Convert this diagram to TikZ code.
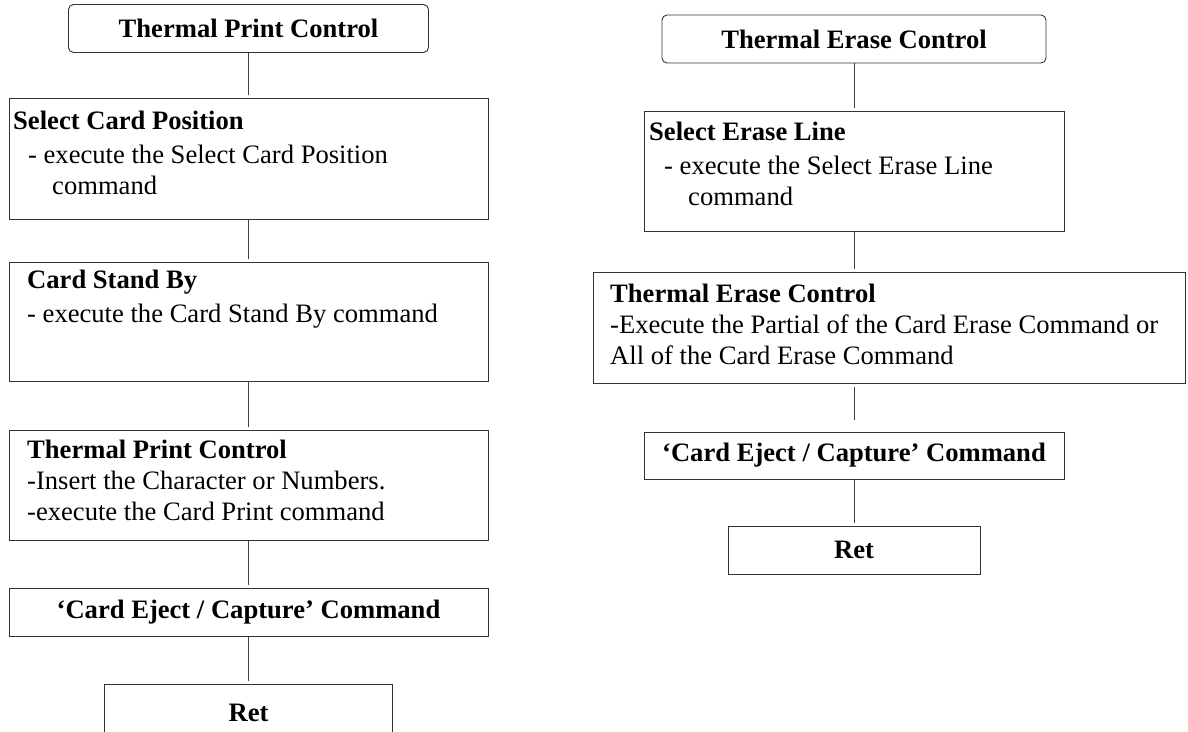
\documentclass[tikz,border=0pt]{standalone}
\usepackage{fontspec}
\setmainfont{Liberation Serif}
\usetikzlibrary{positioning, calc}
\newcommand{\boxfont}{\fontsize{26.6}{31}\selectfont}
\tikzset{
  headbox/.style={rectangle, draw=black!80, rounded corners=5pt, line width=0.9pt,
    minimum height=48pt, inner sep=0pt, font=\boxfont\bfseries},
  stepbox/.style={rectangle, draw=black!80, line width=0.9pt, inner sep=0pt,
    font=\boxfont\bfseries},
  steptext/.style={anchor=north west, inner sep=0pt, align=left, font=\boxfont},
  line/.style={draw=black!75, line width=0.9pt, shorten >=3pt}
}
\begin{document}
\begin{tikzpicture}[x=1pt, y=-1pt]
  \clip (0,0) rectangle (1188,731);
  \fill[white] (0,0) rectangle (1188,731);

  % Print column
  \node[headbox, minimum width=360pt] (pstart) at (248.5, 28.5) {Thermal Print Control};
  \node[stepbox, minimum width=479pt, minimum height=121pt] (ppos) at (248.5, 158.5) {};
  \node[steptext] (ppostext) at (13, 111) {\textbf{Select Card Position}\\[3pt]
    \hspace*{15pt}- execute the Select Card Position\\ \hspace*{39pt}command};
  \node[stepbox, minimum width=479pt, minimum height=119pt] (pstand) at (248.5, 321.5) {};
  \node[steptext] (pstandtext) at (27, 270) {\textbf{Card Stand By}\\[3pt]
    - execute the Card Stand By command};
  \node[stepbox, minimum width=479pt, minimum height=110pt] (pprint) at (248.5, 485) {};
  \node[steptext] (pprinttext) at (27, 440) {\textbf{Thermal Print Control}\\
    -Insert the Character or Numbers.\\ -execute the Card Print command};
  \node[stepbox, minimum width=479pt, minimum height=48pt] (peject) at (248.5, 612) {‘Card Eject / Capture’ Command};
  \node[stepbox, minimum width=288pt, minimum height=58pt] (pret) at (248.5, 713) {Ret};

  % Erase column
  \node[headbox, minimum width=384pt] (estart) at (854, 39) {Thermal Erase Control};
  \node[stepbox, minimum width=420pt, minimum height=120pt] (epos) at (854, 171) {};
  \node[steptext] (epostext) at (649, 122) {\textbf{Select Erase Line}\\[3pt]
    \hspace*{15pt}- execute the Select Erase Line\\ \hspace*{39pt}command};
  \node[stepbox, minimum width=592pt, minimum height=111pt] (erase) at (889, 327.5) {};
  \node[steptext] (erasetext) at (610, 284) {\textbf{Thermal Erase Control}\\
    -Execute the Partial of the Card Erase Command or\\ All of the Card Erase Command};
  \node[stepbox, minimum width=420pt, minimum height=47pt] (eeject) at (854, 455.5) {‘Card Eject / Capture’ Command};
  \node[stepbox, minimum width=252pt, minimum height=48pt] (eret) at (854, 550) {Ret};

  % Connectors
  \draw[line] (pstart) -- (ppos);
  \draw[line] (ppos) -- (pstand);
  \draw[line] (pstand) -- (pprint);
  \draw[line] (pprint) -- (peject);
  \draw[line] (peject) -- (pret);
  \draw[line] (estart) -- (epos);
  \draw[line] (epos.south) -- (epos.south |- erase.north);
  \draw[line, shorten <=4pt, shorten >=12pt] (erase.south -| eeject) -- (eeject.north);
  \draw[line] (eeject) -- (eret);
\end{tikzpicture}
\end{document}
